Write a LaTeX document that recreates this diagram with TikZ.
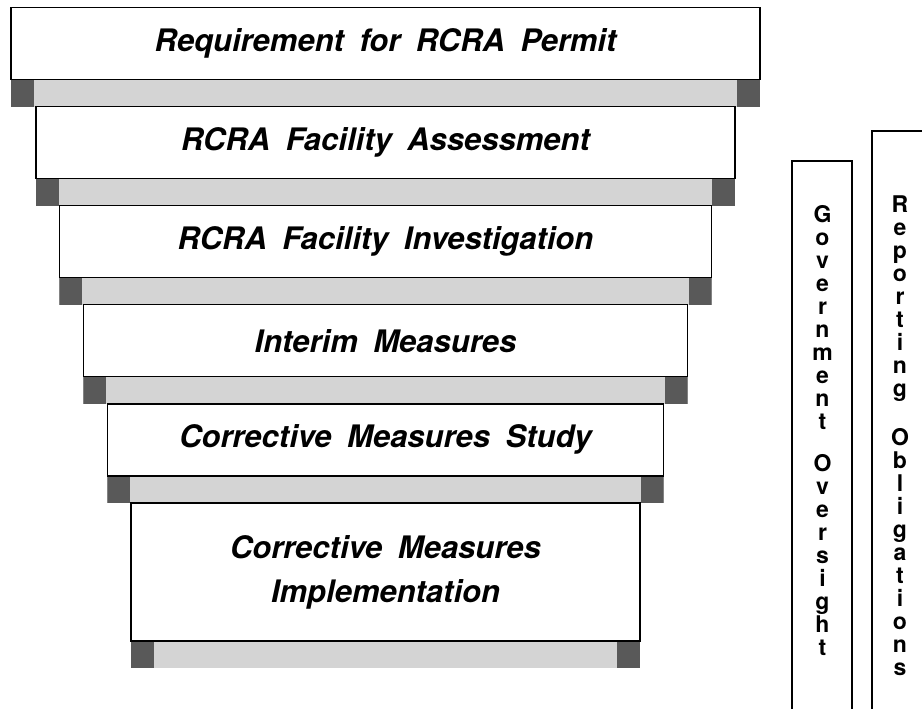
\documentclass[tikz,border=0pt]{standalone}
\usepackage{fontspec}
\setsansfont{TeX Gyre Heros}[WordSpace=1.8]
\usetikzlibrary{positioning}
\tikzset{
  stage node/.style={draw, line width=1.3bp, fill=white, inner sep=0pt, outer sep=0pt,
    minimum height=72bp, align=center,
    font=\fontsize{31bp}{44bp}\selectfont\sffamily\bfseries\itshape},
  shade bar/.style={fill=black!17, minimum height=26.5bp, inner sep=0pt, outer sep=0pt,
    path picture={
      \fill[black!65] (path picture bounding box.north west) rectangle ([xshift=23bp]path picture bounding box.south west);
      \fill[black!65] (path picture bounding box.north east) rectangle ([xshift=-23bp]path picture bounding box.south east);
    }},
  column box/.style={draw, line width=1.2bp, inner sep=0pt, outer sep=0pt, anchor=north west,
    minimum width=60bp, minimum height=600bp},
  column text/.style={anchor=north, inner sep=0pt, align=center,
    font=\fontsize{23bp}{23bp}\selectfont\sffamily\bfseries},
}

\begin{document}
\begin{tikzpicture}[x=1bp,y=-1bp]
  \useasboundingbox (0,0) rectangle (922,709);
  % Stages
  \node[stage node, minimum width=749bp] (permit) at (385.5,43.5) {Requirement for RCRA Permit};
  \node[shade bar, minimum width=749bp, below=0.6bp of permit] (bar1) {};
  \node[stage node, minimum width=699bp, below=0pt of bar1] (rfa) {RCRA Facility Assessment};
  \node[shade bar, minimum width=699bp, below=0.6bp of rfa] (bar2) {};
  \node[stage node, minimum width=652bp, below=0pt of bar2] (rfi) {RCRA Facility Investigation};
  \node[shade bar, minimum width=652bp, below=0.6bp of rfi] (bar3) {};
  \node[stage node, minimum width=604bp, below=0pt of bar3] (interim) {Interim Measures};
  \node[shade bar, minimum width=604bp, below=0.6bp of interim] (bar4) {};
  \node[stage node, minimum width=556bp, below=0pt of bar4] (cms) {Corrective Measures Study};
  \node[shade bar, minimum width=556bp, below=0.6bp of cms] (bar5) {};
  \node[stage node, minimum width=509bp, minimum height=138bp, below=0pt of bar5] (cmi) {Corrective Measures\\Implementation};
  \node[shade bar, minimum width=509bp, below=0.6bp of cmi] (bar6) {};
  % Side columns
  \node[column box] (govbox) at (792,161) {};
  \node[column box] (repbox) at (872,131) {};
  \node[column text] (govtext) at (822.5,205) {G\\o\\v\\e\\r\\n\\m\\e\\n\\t\\[19bp]O\\v\\e\\r\\s\\i\\g\\h\\t};
  \node[column text] (reptext) at (900,196) {R\\e\\p\\o\\r\\t\\i\\n\\g\\[26bp]O\\b\\l\\i\\g\\a\\t\\i\\o\\n\\s};
\end{tikzpicture}
\end{document}
